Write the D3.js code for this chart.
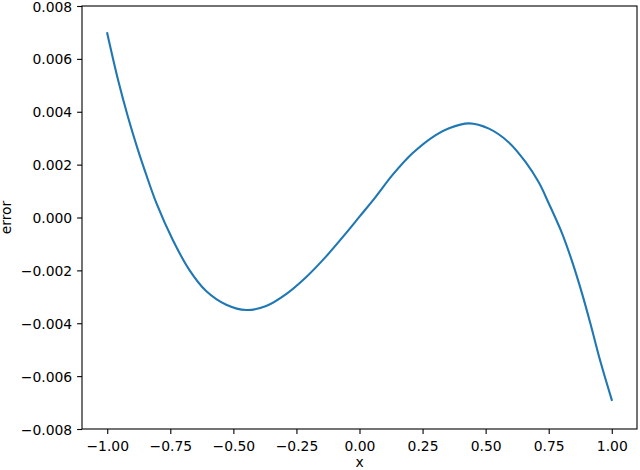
<!DOCTYPE html>
<html>
<head>
<meta charset="utf-8">
<script src="https://cdn.jsdelivr.net/npm/d3@7"></script>
<style>
  body { margin: 0; background: #fff; }
  svg text { font-family: "DejaVu Sans", sans-serif; font-size: 13.9px; fill: #000; }
</style>
</head>
<body>
<svg id="chart" width="640" height="470"></svg>
<script>
// values (error in units of 1)
var xs = [-1.00, -0.957, -0.918, -0.878, -0.854, -0.805, -0.740, -0.674, -0.608, -0.528,
  -0.449, -0.370, -0.291, -0.212, -0.133, -0.054, 0.000, 0.065, 0.131, 0.210,
  0.302, 0.355, 0.434, 0.513, 0.592, 0.658, 0.711, 0.750, 0.803, 0.843,
  0.882, 0.915, 0.955, 1.00];
var errs = [0.00697, 0.00520, 0.00381, 0.00255, 0.00186, 0.00054, -0.00085, -0.00199, -0.00278, -0.00330,
  -0.00350, -0.00335, -0.00290, -0.00226, -0.00148, -0.00060, 0.00003, 0.00079, 0.00161, 0.00243,
  0.00312, 0.00338, 0.00356, 0.00336, 0.00284, 0.00210, 0.00132, 0.00054, -0.00060, -0.00167,
  -0.00287, -0.00400, -0.00545, -0.00690];
var xTicks = [-1.00, -0.75, -0.50, -0.25, 0.00, 0.25, 0.50, 0.75, 1.00];
var yTicks = [0.008, 0.006, 0.004, 0.002, 0.000, -0.002, -0.004, -0.006, -0.008];

var svg = d3.select("#chart");

// plot area edges (matplotlib default subplot)
var padLeft = 82, padRight = 637, padTop = 6, padBottom = 429;

var xScale = d3.scaleLinear().domain([-1.1, 1.1]).range([padLeft, padRight]);
var yScale = d3.scaleLinear().domain([-0.008, 0.008]).range([padBottom, padTop]);

var minus = function (s) { return s.replace("-", "\u2212"); };

// the curve
var points = xs.map(function (x, i) { return [x, errs[i]]; });
var line = d3.line()
  .x(function (d) { return xScale(d[0]); })
  .y(function (d) { return yScale(d[1]); })
  .curve(d3.curveCatmullRom.alpha(0.5));

svg.append("path")
  .datum(points)
  .attr("d", line)
  .attr("fill", "none")
  .attr("stroke", "#1f77b4")
  .attr("stroke-width", 2.1)
  .attr("stroke-linecap", "square");

// x axis
var bottomAxis = d3.axisBottom(xScale)
  .tickValues(xTicks)
  .tickSize(4.9)
  .tickPadding(4.9)
  .tickFormat(function (d) { return minus(d3.format(".2f")(d)); });
var gx = svg.append("g")
  .attr("transform", "translate(0," + padBottom + ")")
  .call(bottomAxis);
gx.select(".domain").remove();
gx.selectAll("line").attr("stroke", "#000").attr("stroke-width", 1.1);
gx.selectAll("text").attr("dy", null).attr("y", 22).style("font-size", "13.9px").style("font-family", "DejaVu Sans");

// y axis
var leftAxis = d3.axisLeft(yScale)
  .tickValues(yTicks)
  .tickSize(4.9)
  .tickPadding(4.9)
  .tickFormat(function (d) { return minus(d3.format(".3f")(d)); });
var gy = svg.append("g")
  .attr("transform", "translate(" + padLeft + ",0)")
  .call(leftAxis);
gy.select(".domain").remove();
gy.selectAll("line").attr("stroke", "#000").attr("stroke-width", 1.1);
gy.selectAll("text").attr("dy", "0.36em").style("font-size", "13.9px").style("font-family", "DejaVu Sans");

// frame
svg.append("rect")
  .attr("x", padLeft).attr("y", padTop)
  .attr("width", padRight - padLeft).attr("height", padBottom - padTop)
  .attr("fill", "none")
  .attr("stroke", "#000")
  .attr("stroke-width", 1.1);

// axis labels
svg.append("text")
  .attr("x", (padLeft + padRight) / 2)
  .attr("y", 467)
  .attr("text-anchor", "middle")
  .text("x");

svg.append("text")
  .attr("transform", "translate(11," + ((padTop + padBottom) / 2) + ")rotate(-90)")
  .attr("text-anchor", "middle")
  .text("error");
</script>
</body>
</html>
